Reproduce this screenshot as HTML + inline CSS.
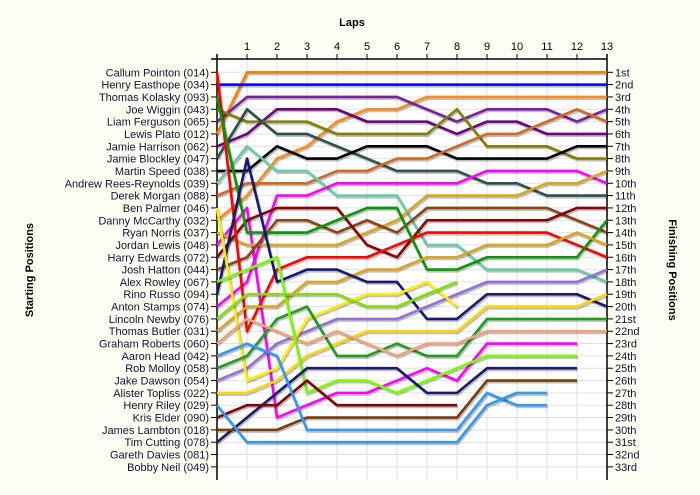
<!DOCTYPE html>
<html><head><meta charset="utf-8"><style>
body{margin:0;background:#fffef4;}
svg{display:block;font-family:"Liberation Sans",Arial,sans-serif;}
</style></head><body>
<svg id="chart" width="700" height="495">
<rect x="217" y="59" width="390" height="421" fill="#ffffff"/>
<text x="352" y="26" font-size="11" font-weight="bold" text-anchor="middle">Laps</text>
<text transform="translate(33,270) rotate(-90)" font-size="11" font-weight="bold" text-anchor="middle">Starting Positions</text>
<text transform="translate(669,270) rotate(90)" font-size="11" font-weight="bold" text-anchor="middle">Finishing Positions</text>
<g id="grid"></g><g id="axes"></g><g id="series"></g>
</svg>
<script>
const laps = [0,1,2,3,4,5,6,7,8,9,10,11,12,13];
const drivers = ["Callum Pointon (014)","Henry Easthope (034)","Thomas Kolasky (093)","Joe Wiggin (043)","Liam Ferguson (065)","Lewis Plato (012)","Jamie Harrison (062)","Jamie Blockley (047)","Martin Speed (038)","Andrew Rees-Reynolds (039)","Derek Morgan (088)","Ben Palmer (046)","Danny McCarthy (032)","Ryan Norris (037)","Jordan Lewis (048)","Harry Edwards (072)","Josh Hatton (044)","Alex Rowley (067)","Rino Russo (094)","Anton Stamps (074)","Lincoln Newby (076)","Thomas Butler (031)","Graham Roberts (060)","Aaron Head (042)","Rob Molloy (058)","Jake Dawson (054)","Alister Topliss (022)","Henry Riley (029)","Kris Elder (090)","James Lambton (018)","Tim Cutting (078)","Gareth Davies (081)","Bobby Neil (049)"];
const finishLabels = ["1st","2nd","3rd","4th","5th","6th","7th","8th","9th","10th","11th","12th","13th","14th","15th","16th","17th","18th","19th","20th","21st","22nd","23rd","24th","25th","26th","27th","28th","29th","30th","31st","32nd","33rd"];
const seriesNames = ["orange-a","blue","orange-b","purple","violet","olive","slate","black","copper","teal","magenta-a","magenta-b","gold-a","brown","maroon","red","green-a","gold-b","navy-a","lavender","yellow-a","yellow-b","green-b","salmon","lime-a","lime-b","navy-b","maroon-b","brown-b","sky-a","sky-b"];
const seriesColors = ["#ff7f00","#0000ff","#ff8c1a","#7b1fa2","#6a0080","#808000","#2f4f4f","#000000","#d2691e","#66cdaa","#ff00ff","#ff00ff","#daa520","#8b4513","#8b0000","#ff0000","#009900","#daa520","#191970","#9370db","#ffee00","#ffd700","#1e9e1e","#f4a07a","#7cfc00","#80e000","#1a1a6e","#800000","#7a3b0a","#3399ff","#3399ee"];
const posOrangeA = [6,1,1,1,1,1,1,1,1,1,1,1,1,1];
const posBlue = [2,2,2,2,2,2,2,2,2,2,2,2,2,2];
const posOrangeB = [13,11,8,7,5,4,4,3,3,3,3,3,3,3];
const posPurple = [5,3,3,3,3,3,3,4,5,4,4,4,5,4];
const posViolet = [7,6,4,4,4,5,5,5,6,5,5,6,6,6];
const posOlive = [4,5,5,5,6,6,6,6,4,7,7,7,8,8];
const posSlate = [8,4,6,6,7,8,9,9,9,10,10,11,11,11];
const posBlack = [9,9,7,8,8,7,7,7,8,8,8,8,7,7];
const posCopper = [11,10,10,10,9,9,8,8,7,6,6,5,4,5];
const posTeal = [10,7,9,9,11,11,11,15,15,17,17,17,17,18];
const posMagentaA = [20,18,11,11,10,10,10,10,10,9,9,9,9,10];
const posMagentaB = [15,12,29,28,27,27,26,25,26,23,23,23,23,null];
const posGoldA = [14,15,15,15,15,14,13,11,11,11,11,10,10,9];
const posBrown = [17,16,13,13,14,13,14,12,12,12,12,12,13,14];
const posMaroon = [16,13,12,12,12,15,16,13,13,13,13,13,12,12];
const posRed = [1,22,17,16,16,16,15,14,14,14,14,14,15,16];
const posGreenA = [3,14,14,14,13,12,12,17,17,16,16,16,16,13];
const posGoldB = [22,20,20,18,18,17,17,16,16,15,15,15,14,15];
const posNavyA = [19,8,18,17,17,18,18,21,21,19,19,19,19,20];
const posLavender = [26,25,23,22,21,21,21,20,19,18,18,18,18,17];
const posYellowA = [12,26,25,21,20,19,19,18,20,null,null,null,null,null];
const posYellowB = [27,27,26,24,23,22,22,22,22,20,20,20,20,19];
const posGreenB = [25,24,21,20,24,24,23,24,24,21,21,21,21,21];
const posSalmon = [23,21,22,23,22,23,24,23,23,22,22,22,22,22];
const posLimeA = [18,17,16,27,26,26,27,26,25,24,24,24,24,null];
const posLimeB = [21,19,19,19,19,20,20,19,18,null,null,null,null,null];
const posNavyB = [31,29,27,25,25,25,25,27,27,25,25,25,25,null];
const posMaroonB = [29,28,28,26,28,28,28,28,28,null,null,null,null,null];
const posBrownB = [30,30,30,29,29,29,29,29,29,26,26,26,26,null];
const posSkyA = [24,23,24,30,30,30,30,30,30,27,28,28,null,null];
const posSkyB = [28,31,31,31,31,31,31,31,31,28,27,27,null,null];
const allPositions = [posOrangeA,posBlue,posOrangeB,posPurple,posViolet,posOlive,posSlate,posBlack,posCopper,posTeal,posMagentaA,posMagentaB,posGoldA,posBrown,posMaroon,posRed,posGreenA,posGoldB,posNavyA,posLavender,posYellowA,posYellowB,posGreenB,posSalmon,posLimeA,posLimeB,posNavyB,posMaroonB,posBrownB,posSkyA,posSkyB];

const NS="http://www.w3.org/2000/svg";
const X0=217, LAPW=30, Y1=72.3, ROWH=12.33, TOP=59, BOT=480, XR=607;
function xScale(l){return X0+l*LAPW;}
function yScale(p){return Y1+(p-1)*ROWH;}
function mk(tag,attrs,parent){const e=document.createElementNS(NS,tag);for(const k in attrs)e.setAttribute(k,attrs[k]);parent.appendChild(e);return e;}
const grid=document.getElementById('grid'), axes=document.getElementById('axes'), ser=document.getElementById('series');
laps.forEach(l=>{if(l>0){const g=mk('line',{x1:xScale(l),x2:xScale(l),y1:TOP,y2:BOT,stroke:'#e2e2e2','stroke-width':1},grid);


const t=mk('line',{x1:xScale(l),x2:xScale(l),y1:TOP-5,y2:TOP,stroke:'#000'},axes);


const tx=mk('text',{x:xScale(l),y:50,'font-size':11,'text-anchor':'middle'},axes);tx.textContent=l;

}});
for(let p=1;p<=33;p++){const y=yScale(p);
const g=mk('line',{x1:X0,x2:XR,y1:y,y2:y,stroke:'#e2e2e2'},grid);


const t=mk('line',{x1:X0-6,x2:X0,y1:y,y2:y,stroke:'#000'},axes);


const l=mk('text',{x:X0-8,y:y+4,'font-size':11,'text-anchor':'end',fill:'#111133'},axes);l.textContent=drivers[p-1];


const t2=mk('line',{x1:XR,x2:XR+6,y1:y,y2:y,stroke:'#000'},axes);


const r=mk('text',{x:XR+8,y:y+4,'font-size':11,fill:'#111133'},axes);r.textContent=finishLabels[p-1];

}
const la=mk('line',{x1:X0,x2:X0,y1:TOP-5,y2:BOT,stroke:'#000','stroke-width':1.5},axes);


const ra=mk('line',{x1:XR,x2:XR,y1:TOP-5,y2:BOT,stroke:'#000','stroke-width':1.5},axes);


const ta=mk('line',{x1:X0-6,x2:XR,y1:TOP,y2:TOP,stroke:'#000','stroke-width':1.5},axes);


allPositions.forEach((arr,i)=>{let pts=[];arr.forEach((p,l)=>{if(p!=null)pts.push(xScale(l)+','+yScale(p));});
const sh=mk('polyline',{points:pts.join(' '),fill:'none',stroke:'rgba(0,0,0,0.25)','stroke-width':3,transform:'translate(1,1.5)','stroke-linejoin':'round'},ser);


const pl=mk('polyline',{points:pts.join(' '),fill:'none',stroke:seriesColors[i],'stroke-width':2.6,'stroke-linejoin':'round'},ser);

});
</script>
</body></html>
